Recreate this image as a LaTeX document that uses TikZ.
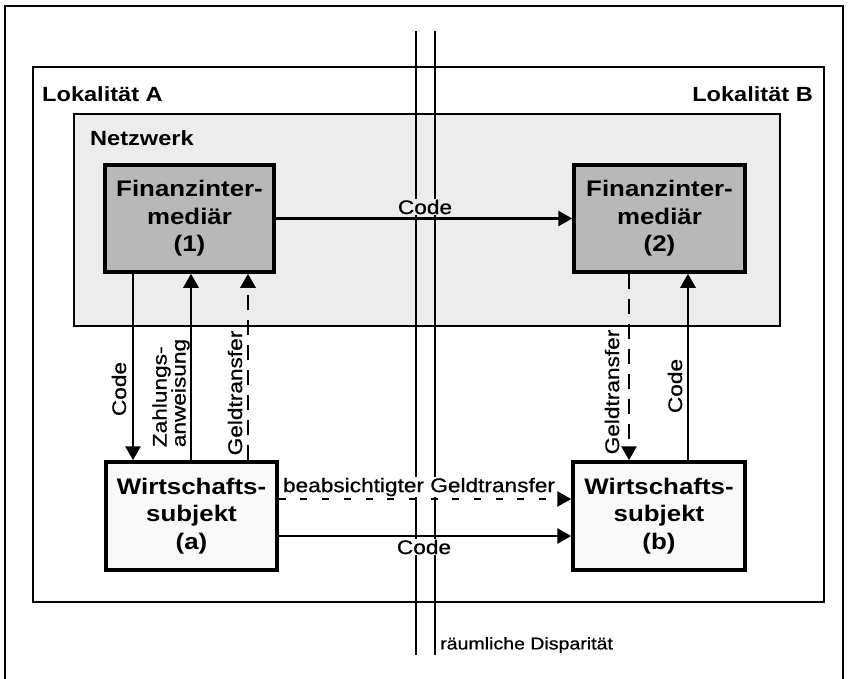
\documentclass[tikz,border=0pt]{standalone}
\usepackage{fontspec}
\setmainfont{Liberation Sans}[FakeStretch=1.15]
\newfontfamily\mylblfamily{Liberation Sans}[FakeStretch=1.15, FakeBold=0.7]
\usetikzlibrary{arrows.meta}
\definecolor{netgray}{gray}{0.925}
\definecolor{fingray}{gray}{0.72}
\definecolor{wgray}{gray}{0.975}
\newcommand{\myboxfont}{\fontsize{22.5}{27.5}\selectfont\bfseries}
\newcommand{\myheadfont}{\fontsize{20.5}{24}\selectfont\bfseries}
\newcommand{\mylblfont}{\mylblfamily\fontsize{19.7}{19}\selectfont}
\newcommand{\mysmallfont}{\mylblfamily\fontsize{17}{20}\selectfont}
\begin{document}
\begin{tikzpicture}[x=1pt,y=-1pt,
  region/.style={draw, line width=2.2pt, anchor=north west, inner sep=0pt},
  finbox/.style={draw, line width=3.5pt, fill=fingray, minimum width=169pt, minimum height=107pt, inner sep=0pt, align=center, font=\myboxfont},
  wbox/.style={draw, line width=3.5pt, fill=wgray, minimum width=171pt, minimum height=108pt, inner sep=0pt, align=center, font=\myboxfont},
  arr/.style={line width=2.8pt, -{Triangle[length=14pt,width=15pt]}},
  longdash/.style={dash pattern=on 15pt off 10pt},
  shortdash/.style={dash pattern=on 7pt off 14.7pt},
  lbl/.style={font=\mylblfont, inner sep=1pt},
  sep/.style={line width=1.7pt}]
\useasboundingbox (0,0) rectangle (848,678);
% outer frame
\draw[line width=2.4pt] (5,700) -- (5,6) -- (843,6) -- (843,700);
% Lokalitaet region
\node[region, fill=white, minimum width=791pt, minimum height=535pt] (lok) at (32,66) {};
% Netzwerk region
\node[region, line width=2pt, fill=netgray, minimum width=706pt, minimum height=212pt] (net) at (73,113) {};
% spatial disparity lines
\draw[sep] (416,31) coordinate (s1a) -- (416,655) coordinate (s1b);
\draw[sep] (435,31) coordinate (s2a) -- (435,655) coordinate (s2b);
% headings
\node[anchor=base west, font=\myheadfont, inner sep=0pt] (lokA) at (42,101) {Lokalität A};
\node[anchor=base east, font=\myheadfont, inner sep=0pt] (lokB) at (813,101) {Lokalität B};
\node[anchor=base west, font=\myheadfont, inner sep=0pt] (netz) at (90,145) {Netzwerk};
% boxes
\node[finbox] (fin1) at (189.5,218.5) {Finanzinter-\\mediär\\(1)};
\node[finbox, minimum width=171pt] (fin2) at (659.5,218.5) {Finanzinter-\\mediär\\(2)};
\node[wbox] (wa) at (191.5,516) {Wirtschafts-\\subjekt\\(a)};
\node[wbox, minimum width=172pt] (wb) at (659,516) {Wirtschafts-\\subjekt\\(b)};
% x/y positions of connectors
\coordinate (xa1) at (133,0);
\coordinate (xa2) at (191,0);
\coordinate (xa3) at (248,0);
\coordinate (xb1) at (629,0);
\coordinate (xb2) at (688,0);
\coordinate (yb1) at (0,499);
\coordinate (yb2) at (0,536);
% connectors
\draw[arr] (fin1.east) -- (fin2.west);
\draw[arr] (fin1.south -| xa1) -- (wa.north -| xa1);
\draw[arr] (wa.north -| xa2) -- (fin1.south -| xa2);
\draw[arr, longdash] (wa.north -| xa3) -- (fin1.south -| xa3);
\draw[arr, longdash] (fin2.south -| xb1) -- (wb.north -| xb1);
\draw[arr] (wb.north -| xb2) -- (fin2.south -| xb2);
\draw[arr, shortdash] (wa.east |- yb1) -- (wb.west |- yb1);
\draw[arr] (wa.east |- yb2) -- (wb.west |- yb2);
% labels
\node[lbl, fill=netgray] (lc1) at (425,207) {Code};
\node[lbl, fill=white] (lbg) at (419,487) {beabsichtigter Geldtransfer};
\node[lbl, fill=white] (lc2) at (424,547) {Code};
\node[lbl, rotate=90] (lc3) at (119,389) {Code};
\node[lbl, rotate=90, align=left] (lza) at (171,393) {Zahlungs-\\anweisung};
\node[lbl, rotate=90] (lg1) at (235,393) {Geldtransfer};
\node[lbl, rotate=90] (lg2) at (612,392) {Geldtransfer};
\node[lbl, rotate=90] (lc4) at (675,386) {Code};
\node[anchor=west, font=\mysmallfont, inner sep=0pt] (rd) at (440,645) {räumliche Disparität};
\end{tikzpicture}
\end{document}
